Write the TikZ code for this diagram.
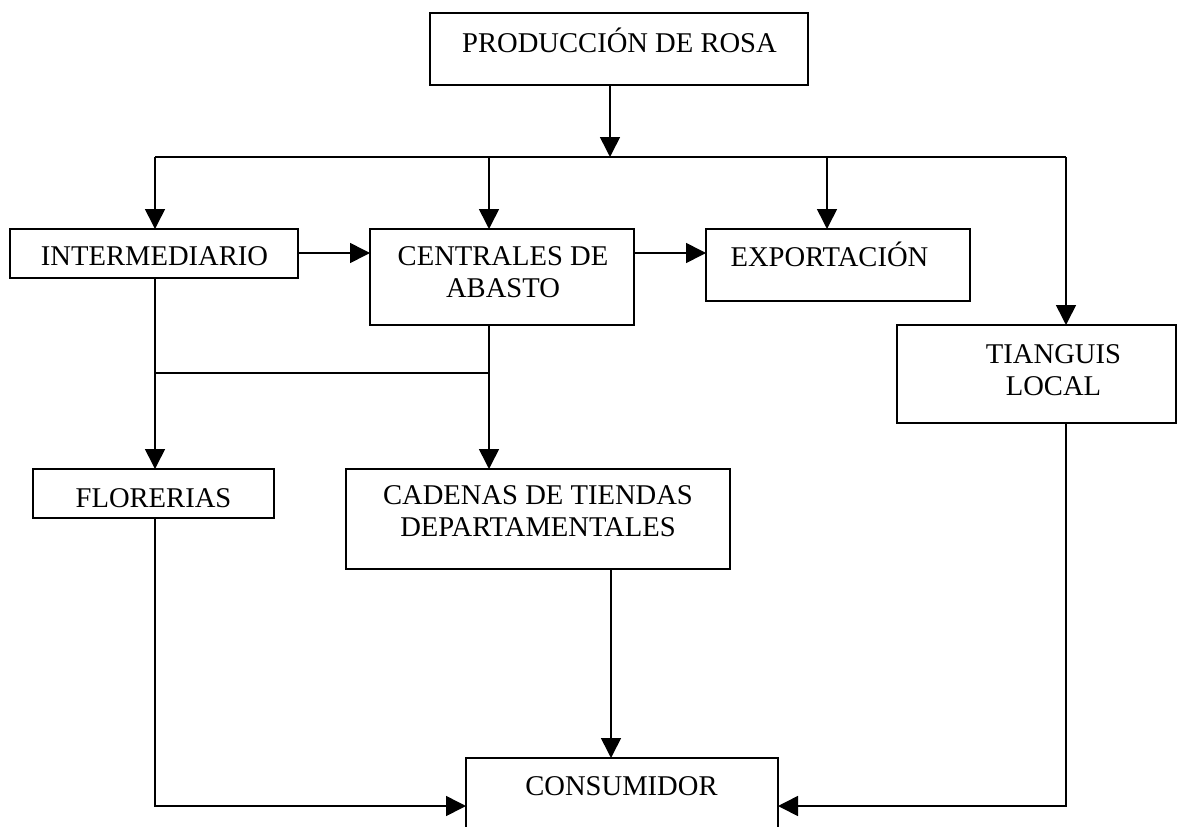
\documentclass[tikz,border=0pt]{standalone}
\usepackage{fontspec}
\setmainfont{Liberation Serif}
\usetikzlibrary{arrows.meta,calc}
\begin{document}
\begin{tikzpicture}[x=1pt,y=-1pt,
  box/.style={draw,line width=1.6pt,rectangle,inner sep=0pt,outer sep=0pt},
  lbl/.style={inner sep=0pt,outer sep=0pt,anchor=base,font=\fontsize{28.6}{32.5}\selectfont},
  conn/.style={line width=1.6pt},
  arr/.style={line width=1.6pt,-{Triangle[width=20pt,length=20pt]}}]
\clip (0,0) rectangle (1202,827);
% boxes
\node[box,minimum width=378pt,minimum height=72pt] (prod) at (619,49) {};
\node[box,minimum width=288pt,minimum height=49pt] (inter) at (154,253.5) {};
\node[box,minimum width=264pt,minimum height=96pt] (cent) at (502,277) {};
\node[box,minimum width=264pt,minimum height=72pt] (expo) at (838,265) {};
\node[box,minimum width=279pt,minimum height=98pt] (tiang) at (1036.5,374) {};
\node[box,minimum width=241pt,minimum height=49pt] (flor) at (153.5,493.5) {};
\node[box,minimum width=384pt,minimum height=100pt] (cad) at (538,519) {};
\node[box,minimum width=312pt,minimum height=100pt] (cons) at (622,808) {};
% labels
\node[lbl] (tprod) at (619.5,52) {PRODUCCIÓN DE ROSA};
\node[lbl] (tinter) at (154.5,265) {INTERMEDIARIO};
\node[lbl] (tcent) at (503,265) {\begin{tabular}[t]{@{}c@{}}CENTRALES DE\\ABASTO\end{tabular}};
\node[lbl] (texpo) at (829.5,266) {EXPORTACIÓN};
\node[lbl] (ttiang) at (1053.5,363) {\begin{tabular}[t]{@{}c@{}}TIANGUIS\\LOCAL\end{tabular}};
\node[lbl] (tflor) at (153.5,507) {FLORERIAS};
\node[lbl] (tcad) at (538,504) {\begin{tabular}[t]{@{}c@{}}CADENAS DE TIENDAS\\DEPARTAMENTALES\end{tabular}};
\node[lbl] (tcons) at (621.5,795) {CONSUMIDOR};
% helper coordinates
\coordinate (bus) at (610,157);
\coordinate (xi) at (155,0);
\coordinate (xc) at (489,0);
\coordinate (xe) at (827,0);
\coordinate (xt) at (1066,0);
\coordinate (xm) at (611,0);
\coordinate (ya) at (0,253);
\coordinate (yj) at (0,373);
\coordinate (yb) at (0,806);
% connectors
\draw[arr] (prod.south -| bus) -- (bus);
\draw[conn] (bus -| xi) -- (bus -| xt);
\draw[arr] (bus -| xi) -- (inter.north -| xi);
\draw[arr] (bus -| xc) -- (cent.north -| xc);
\draw[arr] (bus -| xe) -- (expo.north -| xe);
\draw[arr] (bus -| xt) -- (tiang.north -| xt);
\draw[arr] (inter.east |- ya) -- (cent.west |- ya);
\draw[arr] (cent.east |- ya) -- (expo.west |- ya);
\draw[arr] (inter.south -| xi) -- (flor.north -| xi);
\draw[arr] (cent.south -| xc) -- (cad.north -| xc);
\draw[conn] (yj -| xi) -- (yj -| xc);
\draw[arr] (flor.south -| xi) |- (cons.west |- yb);
\draw[arr] (tiang.south -| xt) |- (cons.east |- yb);
\draw[arr] (cad.south -| xm) -- (cons.north -| xm);
\end{tikzpicture}
\end{document}
